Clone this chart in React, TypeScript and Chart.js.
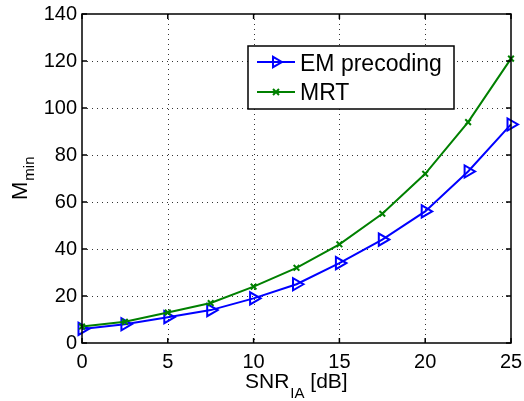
import React, { useEffect, useRef } from "react";
import { Chart, registerables } from "chart.js";

Chart.register(...registerables);

const snrDb = [0, 2.5, 5, 7.5, 10, 12.5, 15, 17.5, 20, 22.5, 25];
const emPrecoding = [6, 8, 11, 14, 19, 25, 34, 44, 56, 73, 93];
const mrt = [7, 9, 13, 17, 24, 32, 42, 55, 72, 94, 121];
const xTicks = [0, 5, 10, 15, 20, 25];
const yTicks = [0, 20, 40, 60, 80, 100, 120, 140];
const seriesNames = ["EM precoding", "MRT"];

const FONT = "'Liberation Sans', Arial, Helvetica, sans-serif";
const BLUE = "#0000ff";
const GREEN = "#008000";

const framePlugin = {
  id: "matlabFrame",
  beforeDatasetsDraw(chart: any) {
    const { ctx, chartArea: a, scales } = chart;
    const xs = scales.x, ys = scales.y;
    ctx.save();
    ctx.strokeStyle = "#333";
    ctx.lineWidth = 1;
    ctx.setLineDash([1, 4]);
    xTicks.forEach((t) => {
      if (t === xTicks[0] || t === xTicks[xTicks.length - 1]) return;
      const px = Math.round(xs.getPixelForValue(t)) + 0.5;
      ctx.beginPath();
      ctx.moveTo(px, a.top);
      ctx.lineTo(px, a.bottom);
      ctx.stroke();
    });
    yTicks.forEach((t) => {
      if (t === yTicks[0] || t === yTicks[yTicks.length - 1]) return;
      const py = Math.round(ys.getPixelForValue(t)) + 0.5;
      ctx.beginPath();
      ctx.moveTo(a.left, py);
      ctx.lineTo(a.right, py);
      ctx.stroke();
    });
    ctx.restore();
  },
  afterDraw(chart: any) {
    const { ctx, chartArea: a, scales } = chart;
    const xs = scales.x, ys = scales.y;
    ctx.save();
    ctx.setLineDash([]);
    ctx.strokeStyle = "#000";
    ctx.lineWidth = 1.5;
    const tl = 5;
    xTicks.forEach((t) => {
      const px = xs.getPixelForValue(t);
      ctx.beginPath();
      ctx.moveTo(px, a.bottom);
      ctx.lineTo(px, a.bottom - tl);
      ctx.moveTo(px, a.top);
      ctx.lineTo(px, a.top + tl);
      ctx.stroke();
    });
    yTicks.forEach((t) => {
      const py = ys.getPixelForValue(t);
      ctx.beginPath();
      ctx.moveTo(a.left, py);
      ctx.lineTo(a.left + tl, py);
      ctx.moveTo(a.right, py);
      ctx.lineTo(a.right - tl, py);
      ctx.stroke();
    });
    ctx.lineWidth = 1.5;
    ctx.strokeRect(a.left, a.top, a.right - a.left, a.bottom - a.top);

    // legend
    const lx = 248, ly = 46, lw = 206, lh = 63;
    ctx.fillStyle = "#fff";
    ctx.fillRect(lx, ly, lw, lh);
    ctx.lineWidth = 1.5;
    ctx.strokeStyle = "#000";
    ctx.strokeRect(lx, ly, lw, lh);
    ctx.lineWidth = 2;
    ctx.strokeStyle = BLUE;
    ctx.beginPath();
    ctx.moveTo(257, 62);
    ctx.lineTo(295, 62);
    ctx.stroke();
    ctx.beginPath();
    const r = 6;
    ctx.moveTo(276 + r, 62);
    ctx.lineTo(276 - r * 0.5, 62 - r * 0.866);
    ctx.lineTo(276 - r * 0.5, 62 + r * 0.866);
    ctx.closePath();
    ctx.stroke();
    ctx.strokeStyle = GREEN;
    ctx.beginPath();
    ctx.moveTo(257, 92);
    ctx.lineTo(295, 92);
    ctx.stroke();
    ctx.beginPath();
    const c = 3;
    ctx.moveTo(276 - c, 92 - c);
    ctx.lineTo(276 + c, 92 + c);
    ctx.moveTo(276 - c, 92 + c);
    ctx.lineTo(276 + c, 92 - c);
    ctx.stroke();
    ctx.fillStyle = "#000";
    ctx.textAlign = "left";
    ctx.textBaseline = "alphabetic";
    ctx.font = `23px ${FONT}`;
    ctx.fillText(seriesNames[0], 300, 71);
    ctx.fillText(seriesNames[1], 300, 100);

    // x axis title
    ctx.font = `21px ${FONT}`;
    let x = 245;
    ctx.fillText("SNR", x, 388);
    x += ctx.measureText("SNR").width + 1;
    ctx.font = `15px ${FONT}`;
    ctx.fillText("IA", x, 398);
    x += ctx.measureText("IA").width;
    ctx.font = `21px ${FONT}`;
    ctx.fillText(" [dB]", x, 388);

    // y axis title
    ctx.save();
    ctx.translate(27, 200);
    ctx.rotate(-Math.PI / 2);
    ctx.font = `22px ${FONT}`;
    ctx.fillText("M", 0, 0);
    const mw = ctx.measureText("M").width;
    ctx.font = `15px ${FONT}`;
    ctx.fillText("min", mw + 1, 7);
    ctx.restore();

    ctx.restore();
  },
};

export default function App() {
  const ref = useRef<HTMLCanvasElement>(null);
  useEffect(() => {
    document.body.style.margin = "0";
    const canvas = ref.current!;
    const chart = new Chart(canvas, {
      type: "line",
      data: {
        datasets: [
          {
            label: seriesNames[0],
            data: snrDb.map((x, i) => ({ x, y: emPrecoding[i] })),
            borderColor: BLUE,
            backgroundColor: "transparent",
            borderWidth: 2,
            pointStyle: "triangle",
            rotation: 90,
            pointRadius: 7,
            pointBorderWidth: 2,
            pointBorderColor: BLUE,
            pointBackgroundColor: "transparent",
            tension: 0,
            clip: false,
            order: 1,
          },
          {
            label: seriesNames[1],
            data: snrDb.map((x, i) => ({ x, y: mrt[i] })),
            borderColor: GREEN,
            backgroundColor: "transparent",
            borderWidth: 2,
            pointStyle: "crossRot",
            pointRadius: 4,
            pointBorderWidth: 2,
            pointBorderColor: GREEN,
            tension: 0,
            clip: false,
            order: 0,
          },
        ],
      },
      options: {
        responsive: false,
        animation: false,
        layout: { padding: { top: 14, right: 13, left: 0, bottom: 0 } },
        plugins: { legend: { display: false }, tooltip: { enabled: false } },
        scales: {
          x: {
            type: "linear",
            min: 0,
            max: 25,
            afterFit: (s: any) => { s.height = 58; s.paddingLeft = 0; s.paddingRight = 0; },
            afterBuildTicks: (s: any) => { s.ticks = xTicks.map((v) => ({ value: v })); },
            grid: { display: false, drawTicks: false },
            border: { display: false },
            ticks: { color: "#000", font: { family: FONT, size: 20 }, padding: 7, maxRotation: 0 },
          },
          y: {
            type: "linear",
            min: 0,
            max: 140,
            afterFit: (s: any) => { s.width = 82; s.paddingTop = 0; s.paddingBottom = 0; },
            afterBuildTicks: (s: any) => { s.ticks = yTicks.map((v) => ({ value: v })); },
            grid: { display: false, drawTicks: false },
            border: { display: false },
            ticks: { color: "#000", font: { family: FONT, size: 20 }, padding: 5 },
          },
        },
      },
      plugins: [framePlugin],
    });
    return () => chart.destroy();
  }, []);
  return <canvas ref={ref} width={524} height={401} style={{ display: "block" }} />;
}
